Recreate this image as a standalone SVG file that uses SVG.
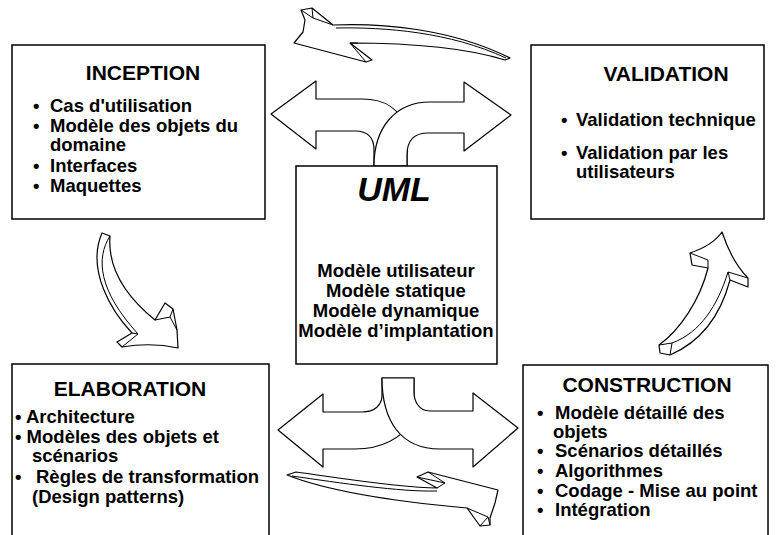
<svg xmlns="http://www.w3.org/2000/svg" width="776" height="535" viewBox="0 0 776 535">
<style>
.box{fill:#fff;stroke:#000;stroke-width:1.5}
.arr{fill:#fff;stroke:#000;stroke-width:1.2;stroke-linejoin:round}
.ln{fill:none;stroke:#000;stroke-width:1}
.title{font-family:"Liberation Sans",Arial,sans-serif;font-weight:bold;font-size:21px;text-anchor:middle}
.t{font-family:"Liberation Sans",Arial,sans-serif;font-weight:bold;font-size:18.5px}
.c{text-anchor:middle}
.uml{font-family:"Liberation Sans",Arial,sans-serif;font-weight:bold;font-style:italic;font-size:34px;text-anchor:middle}
</style>
<rect width="776" height="535" fill="#fff"/>

<g id="connectors">
  <!-- top double arrow -->
  <path class="arr" d="M374,166 L374,150 C374,138 368,131 355,131 L316,131 L316,149 L271,114 L316,81 L316,99 L362,99 C385,99 400,108 407,130 L407,166 Z"/>
  <path class="arr" d="M374,166 C374,128 395,102 430,102 L464,102 L464,82 L511,115 L464,151 L464,133 L428,133 C413,133 407,142 407,155 L407,166 Z"/>
  <!-- bottom double arrow -->
  <path class="arr" d="M382,378 L382,395 C382,405 375,412 362,412 L323,412 L323,394 L278,430 L323,467 L323,449 L355,449 C380,449 400,440 414,420 L414,378 Z"/>
  <path class="arr" d="M382,378 C382,420 400,449 440,449 L473,449 L473,467 L518,428 L473,393 L473,411 L430,411 C418,411 414,400 414,392 L414,378 Z"/>
  <!-- top curved 3D arrow (pointing left) -->
  <path class="arr" d="M301,10 L312,8 L333,25 C380,23 450,28 510,58 L505,60 C460,46 400,43 350,43 L372,60 L366,62 L294,43 L303,32 L305,20 Z"/>
  <path class="ln" d="M312,8 L313,18 L301,10 M313,18 L333,25 M336,28 C385,27 450,32 506,58 M350,43 L366,62 M350,43 L358,43"/>
  <!-- left curved 3D arrow (down) -->
  <path class="arr" d="M102,233 L110,236 C108,262 118,290 155,320 L165,303 L173,309 L177,330 L178,348 C160,344 140,344 122,347 L117,342 L132,333 C112,312 86,270 102,233 Z"/>
  <path class="ln" d="M110,236 C96,258 98,290 138,334 L122,347 M132,333 L138,334 M155,320 L170,317 L173,309 M170,317 L177,330"/>
  <!-- right curved 3D arrow (up) -->
  <path class="arr" d="M659,345 C680,330 700,300 708,268 L692,265 L690,253 C705,248 715,242 722,232 C728,250 735,265 748,278 L748,287 L730,280 C722,310 705,340 670,355 L660,353 Z"/>
  <path class="ln" d="M690,253 L708,260 L708,268 M728,272 L748,278 M728,272 L730,280 M728,272 C718,305 700,333 672,343 L659,345 M672,343 L670,355"/>
  <!-- bottom curved 3D arrow (pointing right) -->
  <path class="arr" d="M287,475 L296,472 C340,478 400,488 437,488 L417,477 L428,472 L498,490 L495,503 L490,518 L490,525 L480,526 L467,508 C400,502 330,492 287,475 Z"/>
  <path class="ln" d="M292,476 C340,483 400,492 437,491 M417,477 L445,483 L428,472 M445,483 L437,488 M467,508 L488,517 L490,525 M488,517 L480,526"/>
</g>

<g id="inception">
  <rect class="box" x="12" y="45" width="253" height="174"/>
  <text class="title" x="143" y="80">INCEPTION</text>
  <text class="t" x="33" y="112">•</text><text class="t" x="50" y="112">Cas d'utilisation</text>
  <text class="t" x="33" y="132">•</text><text class="t" x="50" y="132">Modèle des objets du</text>
  <text class="t" x="50" y="151">domaine</text>
  <text class="t" x="33" y="172">•</text><text class="t" x="50" y="172">Interfaces</text>
  <text class="t" x="33" y="192">•</text><text class="t" x="50" y="192">Maquettes</text>
</g>

<g id="validation">
  <rect class="box" x="531" y="45" width="233" height="174"/>
  <text class="title" x="666" y="81">VALIDATION</text>
  <text class="t" x="561" y="126">•</text><text class="t" x="576" y="126">Validation technique</text>
  <text class="t" x="561" y="159">•</text><text class="t" x="576" y="159">Validation par les</text>
  <text class="t" x="576" y="178">utilisateurs</text>
</g>

<g id="uml">
  <rect class="box" x="296" y="166" width="201" height="198"/>
  <text class="uml" x="394" y="201">UML</text>
  <text class="t c" x="396" y="277">Modèle utilisateur</text>
  <text class="t c" x="396" y="297">Modèle statique</text>
  <text class="t c" x="396" y="317">Modèle dynamique</text>
  <text class="t c" x="396" y="337">Modèle d’implantation</text>
</g>

<g id="elaboration">
  <rect class="box" x="12" y="364" width="257" height="180"/>
  <text class="title" x="130" y="396">ELABORATION</text>
  <text class="t" x="15" y="423">• Architecture</text>
  <text class="t" x="15" y="443">• Modèles des objets et</text>
  <text class="t" x="32" y="462">scénarios</text>
  <text class="t" x="15" y="483">•</text><text class="t" x="36" y="483">Règles de transformation</text>
  <text class="t" x="32" y="503">(Design patterns)</text>
</g>

<g id="construction">
  <rect class="box" x="523" y="365" width="245" height="180"/>
  <text class="title" x="647" y="392">CONSTRUCTION</text>
  <text class="t" x="537" y="419">•</text><text class="t" x="555" y="419">Modèle détaillé des</text>
  <text class="t" x="553" y="438">objets</text>
  <text class="t" x="537" y="457">•</text><text class="t" x="555" y="457">Scénarios détaillés</text>
  <text class="t" x="537" y="477">•</text><text class="t" x="555" y="477">Algorithmes</text>
  <text class="t" x="537" y="497">•</text><text class="t" x="555" y="497">Codage - Mise au point</text>
  <text class="t" x="537" y="516">•</text><text class="t" x="555" y="516">Intégration</text>
</g>
</svg>
